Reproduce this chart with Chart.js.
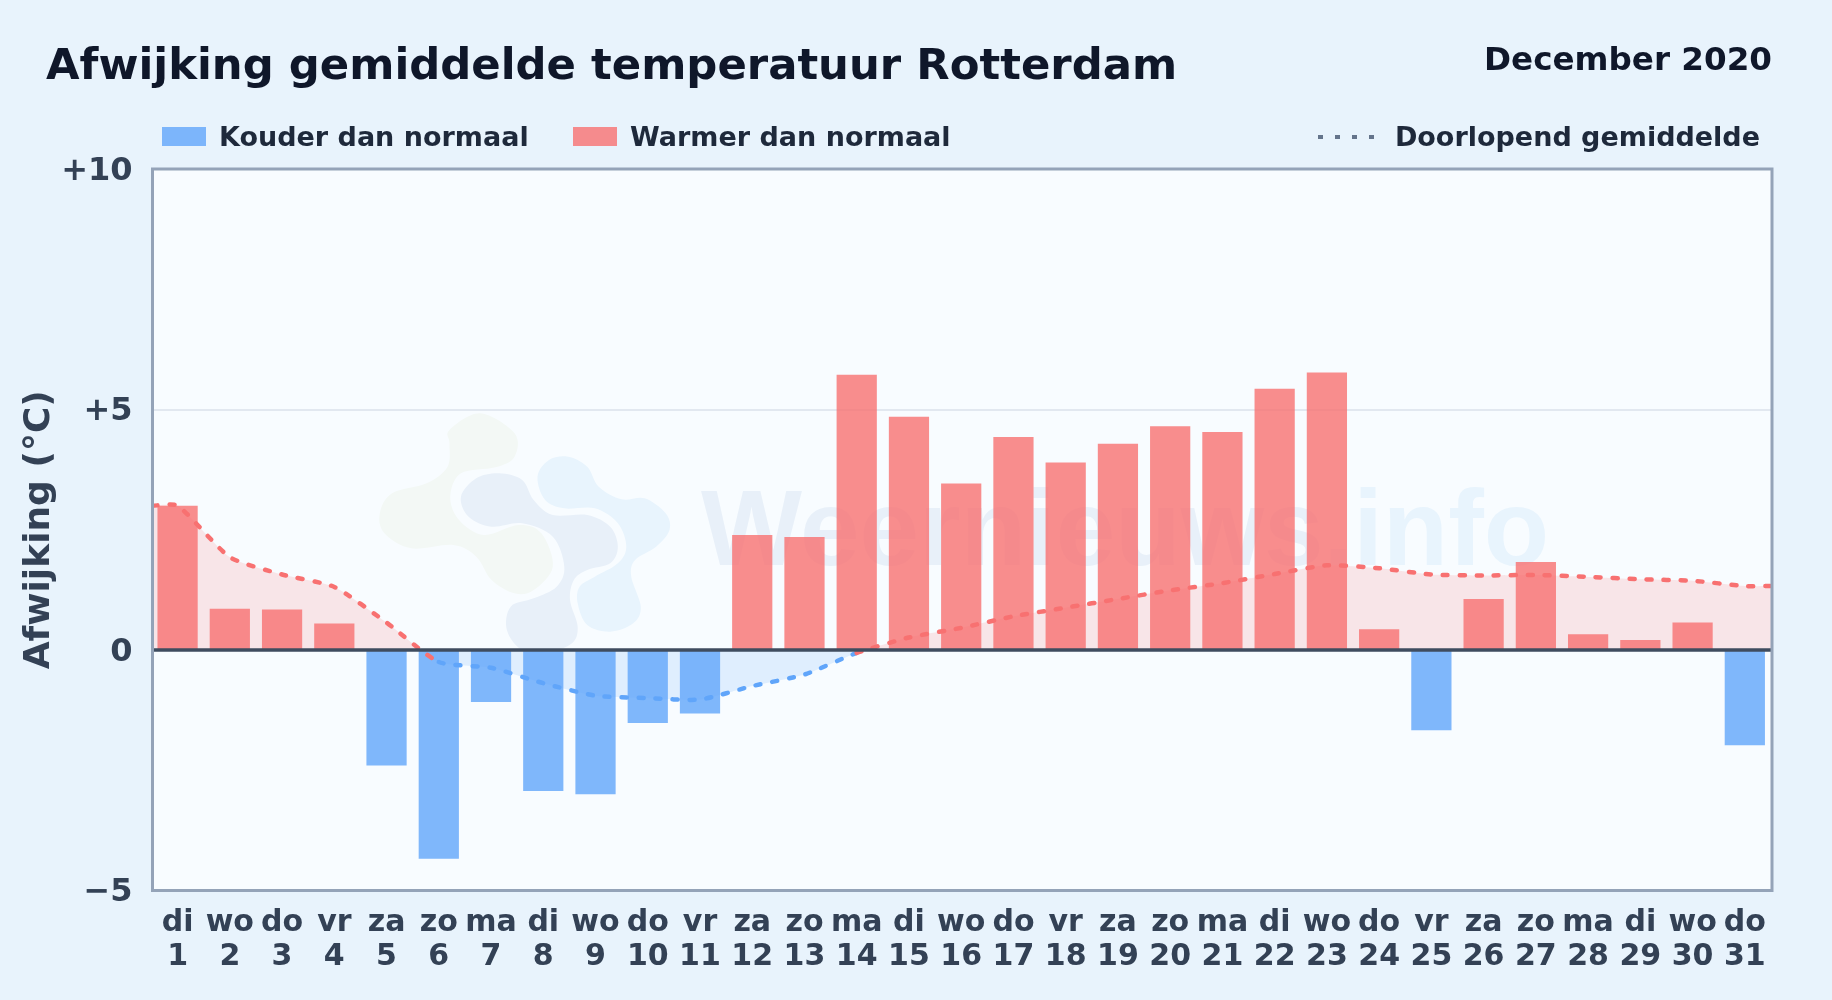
<!DOCTYPE html>
<html lang="nl">
<head>
<meta charset="utf-8">
<title>Afwijking gemiddelde temperatuur Rotterdam</title>
<script src="https://cdn.jsdelivr.net/npm/chart.js@4/dist/chart.umd.min.js"></script>
<style>
  html, body { margin: 0; padding: 0; background: #e8f3fc; }
  body { width: 1832px; height: 1000px; position: relative; overflow: hidden;
         font-family: "DejaVu Sans", sans-serif; font-weight: bold; }
  canvas { position: absolute; left: 0; top: 0; }
  .txt { position: absolute; line-height: 1; white-space: nowrap; }
  .swatch { position: absolute; width: 44px; height: 19px; top: 127px; }
  #title { left: 46px; top: 43px; font-size: 43.35px; color: #0f172a; }
  #month { right: 60px; top: 43px; font-size: 32.6px; color: #0f172a; }
  .leg { top: 123px; font-size: 27px; color: #1e293b; }
  #dots { position: absolute; left: 1316px; top: 132px; }
</style>
</head>
<body>
<canvas id="chart" width="1832" height="1000"></canvas>
<div class="txt" id="title">Afwijking gemiddelde temperatuur Rotterdam</div>
<div class="txt" id="month">December 2020</div>
<div class="swatch" style="left:162px;background:rgba(96,165,250,0.8)"></div>
<div class="txt leg" style="left:219px">Kouder dan normaal</div>
<div class="swatch" style="left:573px;background:rgba(248,113,113,0.8)"></div>
<div class="txt leg" style="left:630px">Warmer dan normaal</div>
<svg id="dots" width="60" height="10"><line x1="2" y1="5" x2="60" y2="5" stroke="#64748b" stroke-width="4" stroke-dasharray="5 12"/></svg>
<div class="txt leg" style="right:72px">Doorlopend gemiddelde</div>
<script>
const dayNames = ['di','wo','do','vr','za','zo','ma','di','wo','do','vr','za','zo','ma','di','wo','do','vr','za','zo','ma','di','wo','do','vr','za','zo','ma','di','wo','do'];
const days = [1,2,3,4,5,6,7,8,9,10,11,12,13,14,15,16,17,18,19,20,21,22,23,24,25,26,27,28,29,30,31];
const deviation = [3.0,0.86,0.84,0.55,-2.4,-4.34,-1.08,-2.93,-3.0,-1.52,-1.32,2.39,2.35,5.72,4.85,3.46,4.43,3.9,4.29,4.65,4.53,5.43,5.77,0.43,-1.67,1.06,1.83,0.33,0.21,0.57,-1.98];
const runningMean = [3.0,1.93,1.57,1.31,0.57,-0.25,-0.37,-0.69,-0.95,-1.0,-1.03,-0.75,-0.51,-0.06,0.26,0.46,0.7,0.88,1.06,1.24,1.39,1.58,1.76,1.7,1.57,1.55,1.56,1.52,1.47,1.44,1.33];
const yTicks = [-5, 0, 5, 10];
const yTickLabels = ['\u22125', '0', '+5', '+10'];

const xMin = 0.52, xMax = 31.52;
const red = '#f87171', blue = '#60a5fa';
const fontFamily = '"DejaVu Sans", sans-serif';

// logo watermark outlines (zoomed crop units)
const logoGreen = [[260,150],[340,100],[430,160],[430,230],[380,262],[290,280],[262,350],[285,420],[350,465],[440,435],[500,460],[530,560],[480,630],[430,640],[370,600],[330,530],[270,495],[160,505],[90,460],[78,400],[110,340],[200,310],[255,260],[260,190]];
const logoSlate = [[290,350],[330,295],[390,280],[450,300],[480,360],[530,405],[620,405],[680,440],[700,500],[680,550],[620,570],[585,600],[575,660],[595,740],[580,790],[520,815],[450,810],[410,750],[420,680],[480,655],[540,620],[560,560],[530,470],[450,430],[370,440],[310,410]];
const logoBlue = [[490,290],[520,240],[570,230],[620,260],[650,320],[710,358],[770,355],[825,400],[835,450],[800,500],[745,540],[735,590],[760,680],[740,730],[680,755],[620,735],[595,670],[600,620],[640,590],[700,550],[722,500],[700,430],[640,385],[560,385],[510,360]];

function blob(ctx, pts, color) {
  // closed catmull-rom curve through the traced points
  const n = pts.length;
  ctx.beginPath();
  ctx.moveTo(pts[0][0], pts[0][1]);
  for (let i = 0; i < n; i++) {
    const p0 = pts[(i+n-1)%n], p1 = pts[i], p2 = pts[(i+1)%n], p3 = pts[(i+2)%n];
    ctx.bezierCurveTo(p1[0]+(p2[0]-p0[0])/6, p1[1]+(p2[1]-p0[1])/6,
                      p2[0]-(p3[0]-p1[0])/6, p2[1]-(p3[1]-p1[1])/6, p2[0], p2[1]);
  }
  ctx.closePath();
  ctx.fillStyle = color;
  ctx.fill();
}

const backdrop = {
  id: 'backdrop',
  beforeDraw(chart) {
    const { ctx, chartArea: a } = chart;
    ctx.save();
    ctx.fillStyle = '#f8fcff';
    ctx.fillRect(a.left, a.top, a.width, a.height);
    ctx.beginPath();
    ctx.rect(a.left, a.top, a.width, a.height);
    ctx.clip();

    ctx.save();
    ctx.translate(350, 380);
    ctx.scale(600/1568, 1/3);
    blob(ctx, logoGreen, '#f3f8f5');
    blob(ctx, logoSlate, '#e8f0f9');
    blob(ctx, logoBlue, '#e8f4fd');
    ctx.restore();

    ctx.font = 'bold 107px "Liberation Sans", sans-serif';
    ctx.textBaseline = 'alphabetic';
    ctx.fillStyle = '#e8f0f9';
    ctx.fillText('Weernieuws', 701, 565);
    const w = ctx.measureText('Weernieuws').width;
    ctx.fillStyle = '#e8f4fd';
    ctx.fillText('.info', 701 + w, 565);
    ctx.restore();
  },
  afterDatasetsDraw(chart) {
    const { ctx, chartArea: a, scales } = chart;
    const y0 = scales.y.getPixelForValue(0);
    ctx.save();
    ctx.strokeStyle = '#3f4c5f';
    ctx.lineWidth = 3.5;
    ctx.beginPath();
    ctx.moveTo(a.left, y0);
    ctx.lineTo(a.right, y0);
    ctx.stroke();
    ctx.strokeStyle = '#94a3b8';
    ctx.lineWidth = 3;
    ctx.strokeRect(a.left, a.top, a.width, a.height);
    ctx.restore();
  }
};

new Chart(document.getElementById('chart'), {
  data: {
    datasets: [
      {
        type: 'line',
        label: 'Doorlopend gemiddelde',
        order: 1,
        // flat run-out to both plot edges
        data: [{ x: xMin, y: runningMean[0] }]
          .concat(days.map((d, i) => ({ x: d, y: runningMean[i] })))
          .concat([{ x: xMax, y: runningMean[30] }]),
        borderWidth: 4.5,
        borderColor: red,
        borderDash: [5, 12],
        borderCapStyle: 'round',
        pointRadius: 0,
        tension: 0.2,
        fill: { target: 'origin', above: 'rgba(248,113,113,0.16)', below: 'rgba(96,165,250,0.16)' },
        segment: {
          borderColor: c => (c.p0.parsed.y > 0 || c.p1.parsed.y > 0) ? red : blue
        }
      },
      {
        type: 'bar',
        label: 'Kouder dan normaal',
        order: 2,
        grouped: false,
        data: days.filter((d, i) => deviation[i] < 0).map(d => ({ x: d, y: deviation[d - 1] })),
        backgroundColor: 'rgba(96,165,250,0.8)',
        barPercentage: 0.77,
        categoryPercentage: 1
      },
      {
        type: 'bar',
        label: 'Warmer dan normaal',
        order: 2,
        grouped: false,
        data: days.filter((d, i) => deviation[i] >= 0).map(d => ({ x: d, y: deviation[d - 1] })),
        backgroundColor: 'rgba(248,113,113,0.8)',
        barPercentage: 0.77,
        categoryPercentage: 1
      }
    ]
  },
  options: {
    responsive: false,
    animation: false,
    layout: { padding: { top: 169, left: 0, right: 60, bottom: 0 } },
    plugins: {
      legend: { display: false },
      tooltip: { enabled: false },
      filler: { drawTime: 'beforeDatasetsDraw' }
    },
    scales: {
      x: {
        type: 'linear',
        offset: false,
        min: xMin,
        max: xMax,
        afterBuildTicks: s => { s.ticks = days.map(d => ({ value: d })); },
        afterFit: s => { s.height = 1000 - 890.5; },
        grid: { display: false, offset: false },
        border: { display: false },
        ticks: {
          autoSkip: false,
          maxRotation: 0,
          padding: 8,
          color: '#334155',
          font: { family: fontFamily, size: 30, weight: 'bold', lineHeight: 1.13 },
          callback: v => [dayNames[v - 1], String(v)]
        }
      },
      y: {
        min: -5,
        max: 10,
        afterBuildTicks: s => { s.ticks = yTicks.map(v => ({ value: v })); },
        afterFit: s => { s.width = 152.5; },
        border: { display: false },
        grid: {
          drawTicks: false,
          lineWidth: 2,
          color: c => c.tick.value === 5 ? '#e2e8f0' : 'rgba(0,0,0,0)'
        },
        title: {
          display: true,
          text: 'Afwijking (\u00B0C)',
          color: '#334155',
          font: { family: fontFamily, size: 36, weight: 'bold' },
          padding: { top: 18, bottom: 0 }
        },
        ticks: {
          padding: 20,
          labelOffset: 2.5,
          color: '#334155',
          font: { family: fontFamily, size: 32, weight: 'bold' },
          callback: v => yTickLabels[yTicks.indexOf(v)]
        }
      }
    }
  },
  plugins: [backdrop]
});
</script>
</body>
</html>
